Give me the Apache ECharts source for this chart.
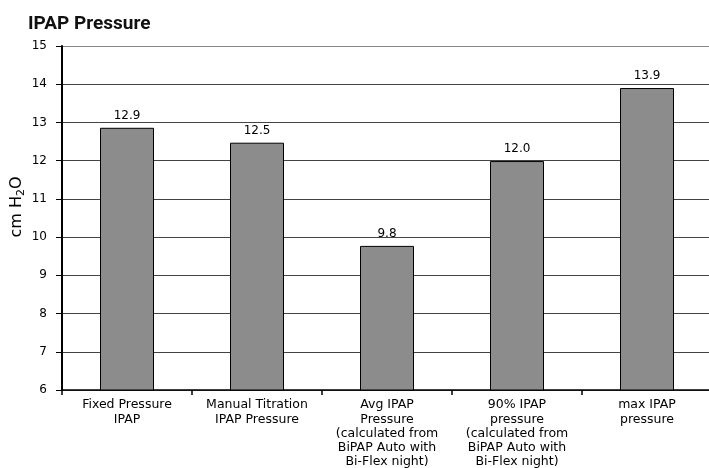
<!DOCTYPE html>
<html><head><meta charset="utf-8">
<script src="https://cdn.jsdelivr.net/npm/echarts@6/dist/echarts.min.js"></script>
<style>html,body{margin:0;padding:0;background:#fff}#c{width:709px;height:468px}</style>
</head><body><div id="c"></div>
<script>
const categories = [
  "Fixed Pressure\nIPAP",
  "Manual Titration\nIPAP Pressure",
  "Avg IPAP\nPressure\n(calculated from\nBiPAP Auto with\nBi-Flex night)",
  "90% IPAP\npressure\n(calculated from\nBiPAP Auto with\nBi-Flex night)",
  "max IPAP\npressure"
];
const values = [12.86, 12.47, 9.77, 11.99, 13.9];
const yTicks = [6, 15, 1];

const chart = echarts.init(document.getElementById('c'), null, {renderer: 'canvas'});
chart.setOption({
  animation: false,
  backgroundColor: '#fff',
  title: {
    text: 'IPAP Pressure', left: 23, top: 10,
    textStyle: {fontFamily: 'Roboto', fontWeight: 'bold', fontSize: 19, color: '#111'}
  },
  grid: {left: 62, top: 46, width: 650, height: 344, containLabel: false, outerBoundsMode: 'none'},
  graphic: [{
    type: 'text', x: 17, y: 207, rotation: Math.PI / 2,
    style: {
      text: '{a|cm H}{s|2}{a|O}', align: 'center', verticalAlign: 'middle',
      rich: {
        a: {fontFamily: 'DejaVu Sans', fontSize: 16, fill: '#000'},
        s: {fontFamily: 'DejaVu Sans', fontSize: 11, fill: '#000', padding: [9, 0, 0, 0]}
      }
    }
  }],
  xAxis: {
    type: 'category', data: categories,
    axisLine: {show: true, lineStyle: {color: '#000', width: 1.5}},
    axisTick: {show: true, length: 5, lineStyle: {color: '#000', width: 1.5}},
    axisLabel: {interval: 0, margin: 8, fontFamily: 'DejaVu Sans', fontSize: 12.5, lineHeight: 14.2, color: '#000'},
    splitLine: {show: false}
  },
  yAxis: {
    type: 'value', min: yTicks[0], max: yTicks[1], interval: yTicks[2],
    axisLine: {show: true, lineStyle: {color: '#000', width: 2}},
    axisTick: {show: true, inside: false, length: 6, lineStyle: {color: '#000', width: 1}},
    axisLabel: {margin: 15, fontFamily: 'DejaVu Sans', fontSize: 12, color: '#000'},
    splitLine: {show: true, lineStyle: {width: 1,
      color: ['#444', '#444', '#444', '#444', '#444', '#444', '#444', '#444', '#444', '#888']}}
  },
  series: [{
    type: 'bar', data: values, barWidth: 54,
    itemStyle: {color: '#8c8c8c', borderColor: '#000', borderWidth: 1},
    label: {show: true, position: 'top', distance: 6, fontFamily: 'DejaVu Sans', fontSize: 12, color: '#000',
      formatter: p => p.value.toFixed(1)}
  }]
});
</script></body></html>
